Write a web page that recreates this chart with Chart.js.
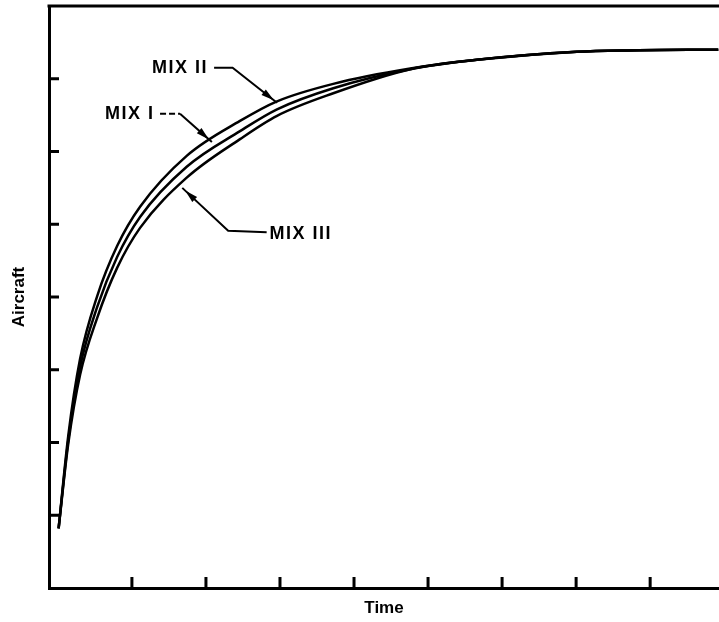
<!DOCTYPE html>
<html>
<head>
<meta charset="utf-8">
<script src="https://cdn.jsdelivr.net/npm/chart.js@4"></script>
<style>
  html, body { margin: 0; padding: 0; background: #fff; }
  #wrap { width: 719px; height: 622px; position: relative; }
</style>
</head>
<body>
<div id="wrap"><canvas id="myChart"></canvas></div>
<script>
// time values (x) shared by the three curves
var times = [0.01, 0.14, 0.30, 0.53, 0.80, 1.11, 1.74, 2.46, 2.96, 3.72, 4.76, 5.66, 7.01, 7.69, 8.92];

var mix1 = [0.82, 2.03, 3.04, 3.86, 4.55, 5.10, 5.79, 6.28, 6.58, 6.87, 7.13, 7.26, 7.37, 7.39, 7.40];
var mix2 = [0.82, 2.09, 3.15, 4.01, 4.70, 5.24, 5.94, 6.42, 6.69, 6.93, 7.14, 7.26, 7.37, 7.39, 7.40];
var mix3 = [0.82, 1.98, 2.93, 3.71, 4.40, 4.95, 5.64, 6.17, 6.49, 6.80, 7.13, 7.26, 7.37, 7.39, 7.40];

var seriesNames = ['MIX I', 'MIX II', 'MIX III'];
var xTicks = [1, 2, 3, 4, 5, 6, 7, 8];
var yTicks = [1, 2, 3, 4, 5, 6, 7];

// callouts: text anchor + leader path (data units), arrow at the last point
var callouts = [
  { text: 'MIX I',   at: [0.635, 6.52], dash: [1.38, 6.52, 1.65, 6.52], path: [[1.65, 6.52], [2.08, 6.13]] },
  { text: 'MIX II',  at: [1.27, 7.15],  dash: null, path: [[2.11, 7.15], [2.36, 7.15], [2.96, 6.67]] },
  { text: 'MIX III', at: [2.86, 4.87],  dash: null, path: [[2.82, 4.89], [2.30, 4.91], [1.68, 5.50]] }
];

function pts(ys) {
  return times.map(function (t, i) { return { x: t, y: ys[i] }; });
}

var frameTicks = {
  id: 'frameTicks',
  afterDraw: function (chart) {
    var ctx = chart.ctx, a = chart.chartArea, xs = chart.scales.x, ys = chart.scales.y;
    ctx.save();
    ctx.strokeStyle = '#000';
    ctx.fillStyle = '#000';
    ctx.lineWidth = 3;
    ctx.beginPath();
    ctx.moveTo(a.left - 1.5, a.top);
    ctx.lineTo(a.right, a.top);
    yTicks.forEach(function (v) {
      var py = ys.getPixelForValue(v);
      ctx.moveTo(a.left, py); ctx.lineTo(a.left + 10, py);
    });
    xTicks.forEach(function (v) {
      var px = xs.getPixelForValue(v);
      ctx.moveTo(px, a.bottom); ctx.lineTo(px, a.bottom - 11);
    });
    ctx.stroke();

    // callout labels
    ctx.font = 'bold 18px "Liberation Sans", Arial, sans-serif';
    ctx.letterSpacing = '1.5px';
    ctx.textBaseline = 'middle';
    ctx.textAlign = 'left';
    ctx.lineWidth = 2;
    callouts.forEach(function (c) {
      ctx.fillText(c.text, xs.getPixelForValue(c.at[0]), ys.getPixelForValue(c.at[1]));
      if (c.dash) {
        ctx.setLineDash([6, 3]);
        ctx.beginPath();
        ctx.moveTo(xs.getPixelForValue(c.dash[0]), ys.getPixelForValue(c.dash[1]));
        ctx.lineTo(xs.getPixelForValue(c.dash[2]), ys.getPixelForValue(c.dash[3]));
        ctx.stroke();
        ctx.setLineDash([]);
      }
      var p = c.path.map(function (q) { return [xs.getPixelForValue(q[0]), ys.getPixelForValue(q[1])]; });
      ctx.beginPath();
      ctx.moveTo(p[0][0], p[0][1]);
      for (var i = 1; i < p.length; i++) ctx.lineTo(p[i][0], p[i][1]);
      ctx.stroke();
      // arrow head
      var e = p[p.length - 1], s = p[p.length - 2];
      var ang = Math.atan2(e[1] - s[1], e[0] - s[0]);
      var tipX = e[0] - 4 * Math.cos(ang), tipY = e[1] - 4 * Math.sin(ang);
      ctx.beginPath();
      ctx.moveTo(tipX, tipY);
      ctx.lineTo(tipX - 13 * Math.cos(ang) + 3.5 * Math.sin(ang), tipY - 13 * Math.sin(ang) - 3.5 * Math.cos(ang));
      ctx.lineTo(tipX - 13 * Math.cos(ang) - 3.5 * Math.sin(ang), tipY - 13 * Math.sin(ang) + 3.5 * Math.cos(ang));
      ctx.closePath();
      ctx.fill();
    });
    ctx.restore();
  }
};

var ctx = document.getElementById('myChart').getContext('2d');
var myChart = new Chart(ctx, {
  type: 'line',
  data: {
    datasets: [
      { label: seriesNames[0], data: pts(mix1) },
      { label: seriesNames[1], data: pts(mix2) },
      { label: seriesNames[2], data: pts(mix3) }
    ]
  },
  options: {
    responsive: true,
    maintainAspectRatio: false,
    animation: false,
    layout: { padding: { top: 6, right: 0, bottom: 0, left: 0 } },
    elements: {
      line: { borderColor: '#000', borderWidth: 2.5, cubicInterpolationMode: 'monotone', fill: false },
      point: { radius: 0 }
    },
    plugins: { legend: { display: false }, tooltip: { enabled: false } },
    scales: {
      x: {
        type: 'linear', min: -0.12, max: 8.93,
        ticks: { display: false },
        grid: { display: false, drawTicks: false },
        border: { display: true, color: '#000', width: 3 },
        title: { display: true, text: 'Time', color: '#000',
                 font: { family: '"Liberation Sans", Arial, sans-serif', size: 17, weight: 'bold' },
                 padding: { top: 10.6, bottom: 3 } }
      },
      y: {
        type: 'linear', min: 0, max: 8,
        ticks: { display: false },
        grid: { display: false, drawTicks: false },
        border: { display: true, color: '#000', width: 3 },
        title: { display: true, text: 'Aircraft', color: '#000',
                 font: { family: '"Liberation Sans", Arial, sans-serif', size: 17, weight: 'bold' },
                 padding: { top: 9, bottom: 19.6 } }
      }
    }
  },
  plugins: [frameTicks]
});
</script>
</body>
</html>
